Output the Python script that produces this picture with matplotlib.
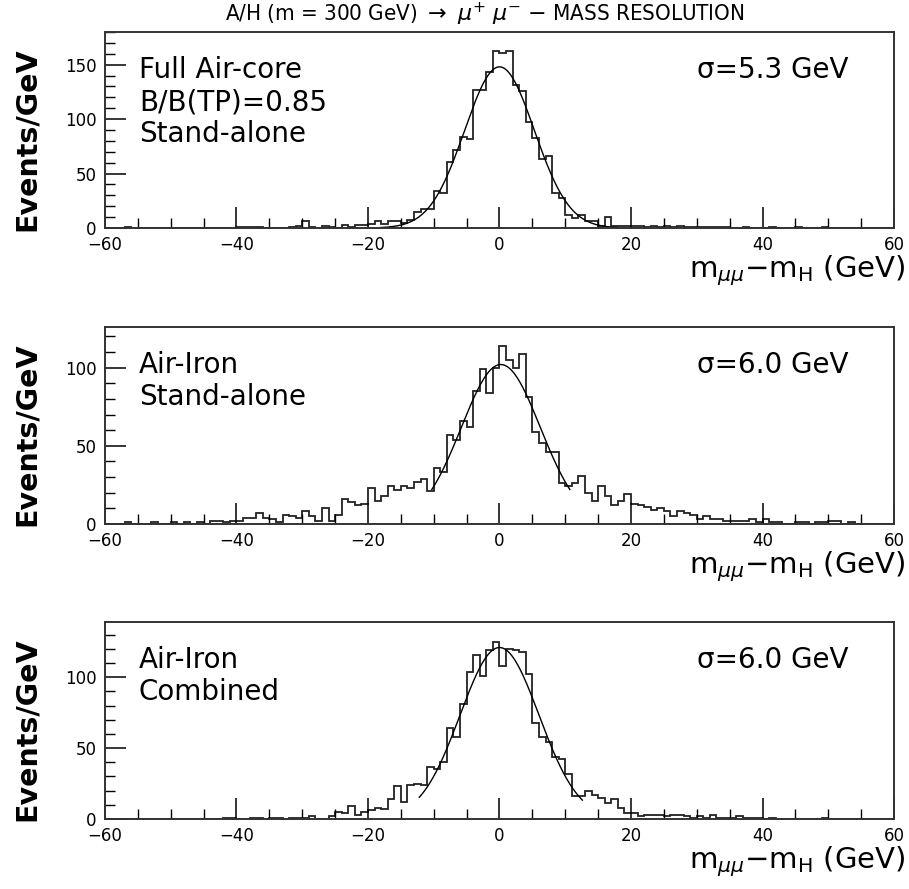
import numpy as np
import matplotlib
matplotlib.use('Agg')
import matplotlib.pyplot as plt
from matplotlib.ticker import MultipleLocator

# bin edges: 1 GeV bins from -60 to 60
edges = np.arange(-60, 61, 1)

# Full air-core, stand-alone
counts_aircore = [
    0, 0, 0, 1, 0, 0, 0, 0, 0, 0,
    0, 0, 0, 0, 0, 0, 0, 0, 0, 0,
    1, 1, 1, 1, 0, 0, 0, 0, 1, 2,
    6, 1, 0, 2, 1, 0, 3, 1, 3, 3,
    4, 6, 4, 6, 6, 5, 7, 15, 17, 17,
    34, 32, 61, 72, 84, 82, 127, 127, 143, 163,
    161, 163, 131, 126, 97, 83, 63, 66, 32, 28,
    12, 9, 12, 6, 6, 2, 10, 2, 2, 2,
    2, 2, 1, 2, 1, 2, 1, 2, 1, 1,
    1, 1, 1, 1, 1, 0, 0, 1, 0, 0,
    0, 1, 0, 0, 0, 1, 0, 0, 0, 1,
    0, 0, 0, 0, 0, 0, 0, 0, 0, 0,
]

# Air-iron, stand-alone
counts_airiron_sa = [
    0, 0, 0, 1, 0, 0, 0, 1, 0, 0,
    1, 0, 1, 0, 1, 0, 2, 2, 1, 2,
    2, 4, 4, 7, 4, 3, 1, 6, 5, 4,
    8, 5, 2, 10, 2, 6, 16, 14, 12, 13,
    23, 15, 18, 24, 22, 24, 23, 27, 29, 21,
    36, 33, 57, 54, 66, 62, 85, 99, 84, 100,
    114, 105, 100, 109, 81, 59, 52, 46, 46, 26,
    24, 26, 31, 20, 15, 24, 18, 12, 15, 19,
    13, 12, 11, 9, 10, 8, 5, 8, 7, 6,
    3, 5, 3, 3, 2, 2, 2, 2, 3, 1,
    3, 1, 1, 0, 0, 1, 1, 0, 1, 1,
    2, 2, 0, 1, 0, 0, 0, 0, 0, 0,
]

# Air-iron, combined
counts_airiron_comb = [
    0, 0, 0, 0, 0, 0, 0, 0, 0, 0,
    0, 0, 0, 0, 0, 0, 0, 0, 1, 1,
    0, 0, 1, 1, 0, 1, 1, 0, 1, 1,
    1, 2, 0, 0, 2, 5, 4, 9, 3, 5,
    6, 8, 7, 14, 23, 12, 24, 25, 24, 37,
    35, 40, 64, 58, 81, 104, 116, 101, 119, 125,
    108, 120, 119, 118, 102, 68, 58, 54, 44, 42,
    32, 16, 16, 20, 17, 15, 11, 14, 8, 4,
    4, 2, 3, 3, 3, 2, 3, 3, 2, 1,
    2, 1, 3, 1, 1, 1, 2, 1, 1, 1,
    0, 1, 0, 0, 0, 0, 0, 0, 0, 1,
    0, 0, 0, 0, 0, 0, 0, 0, 0, 0,
]

# gaussian fits: amplitude, mean, sigma, drawn range
fit_amp = [148, 102, 121]
fit_mean = [0.0, 0.2, 0.0]
fit_sigma = [5.3, 6.0, 6.0]
fit_range = [(-18, 18), (-10.3, 10.7), (-12.2, 12.6)]

labels = [["Full Air-core", "B/B(TP)=0.85", "Stand-alone"],
          ["Air-Iron", "Stand-alone"],
          ["Air-Iron", "Combined"]]
sigma_labels = ["\u03c3=5.3 GeV", "\u03c3=6.0 GeV", "\u03c3=6.0 GeV"]
ymax = [180, 126, 139]

W, H = 909, 889
fig = plt.figure(figsize=(W / 100, H / 100), dpi=100)


def fx(x):
    return x / W


def fy(y):
    return 1 - y / H


# axes pixel boxes (top, bottom)
boxes = [(32, 228), (327, 524), (622, 819)]
left, right = 105, 894
all_counts = [counts_aircore, counts_airiron_sa, counts_airiron_comb]

for i, (top, bot) in enumerate(boxes):
    ax = fig.add_axes([fx(left), fy(bot), (right - left) / W, (bot - top) / H])
    ax.stairs(all_counts[i], edges, color='#222222', lw=1.3)
    xs = np.linspace(fit_range[i][0], fit_range[i][1], 300)
    ax.plot(xs, fit_amp[i] * np.exp(-(xs - fit_mean[i]) ** 2 / (2 * fit_sigma[i] ** 2)),
            color='black', lw=1.0)
    ax.set_xlim(-60, 60)
    ax.set_ylim(0, ymax[i])
    ax.xaxis.set_major_locator(MultipleLocator(20))
    ax.xaxis.set_minor_locator(MultipleLocator(5))
    ax.yaxis.set_major_locator(MultipleLocator(50))
    ax.yaxis.set_minor_locator(MultipleLocator(10))
    ax.tick_params(which='both', direction='in', top=False, right=False)
    ax.tick_params(which='major', length=15, width=1.1, labelsize=12)
    ax.tick_params(axis='x', which='major', pad=6)
    ax.tick_params(axis='y', which='major', pad=6)
    ax.tick_params(which='minor', length=7, width=1.0)
    for s in ax.spines.values():
        s.set_linewidth(1.4)
        s.set_color('#333333')

    # y label
    fig.text(fx(27), fy((top + bot) / 2 + 9), "Events/GeV", rotation=90,
             ha='center', va='center', fontsize=20.5, weight='bold')
    # x label
    fig.text(fx(906), fy(bot + 49), r"m$_{\mu\mu}$$-$m$_{\rm H}$ (GeV)",
             ha='right', va='baseline', fontsize=21)
    # text block
    for j, t in enumerate(labels[i]):
        fig.text(fx(139), fy(top + 46 + 32 * j), t, ha='left', va='baseline',
                 fontsize=20)
    fig.text(fx(697), fy(top + 46), sigma_labels[i], ha='left', va='baseline',
             fontsize=20)

fig.text(fx(485), fy(14),
         r"A/H (m = 300 GeV) $\rightarrow$ $\mu^{+}$ $\mu^{-}$ $-$ MASS RESOLUTION",
         ha='center', va='center', fontsize=16, fontstretch='condensed',
         family=['DejaVu Sans'])

fig.savefig('out.png', dpi=100)
